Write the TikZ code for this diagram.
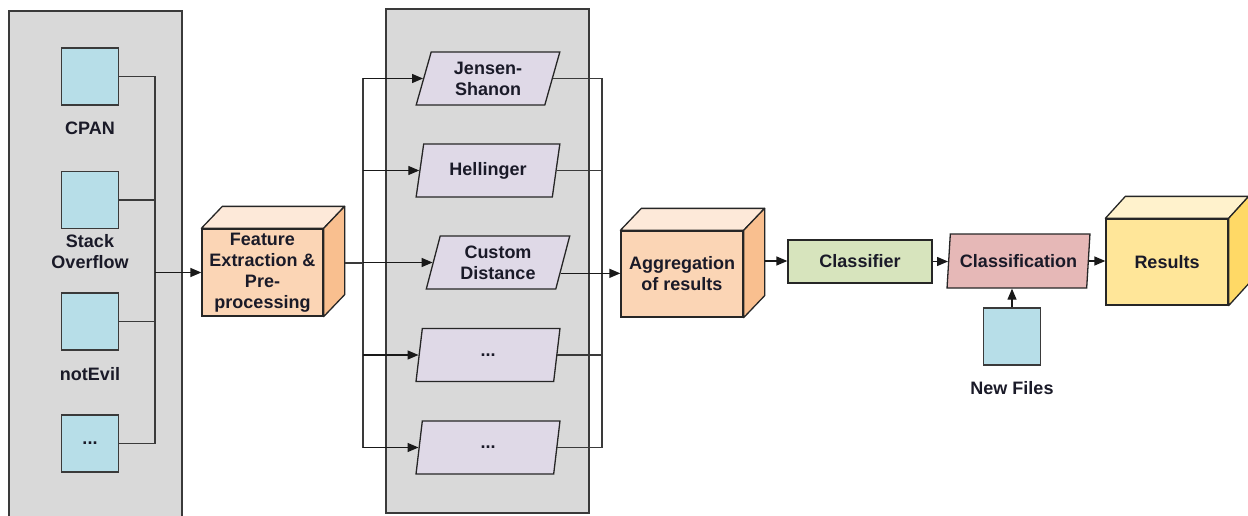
\documentclass[tikz,border=0pt]{standalone}
\usepackage{fontspec}
\setmainfont{Liberation Sans}
\usetikzlibrary{arrows.meta,shapes.geometric,calc}
\definecolor{panelgray}{HTML}{D9D9D9}
\definecolor{edgegray}{HTML}{3A3A3A}
\definecolor{sqblue}{HTML}{B7DEE8}
\definecolor{paralav}{HTML}{DFD9E7}
\definecolor{orfront}{HTML}{FBD5B5}
\definecolor{ortop}{HTML}{FDE9D9}
\definecolor{orside}{HTML}{F9BF8F}
\definecolor{clsgreen}{HTML}{D7E4BD}
\definecolor{clfpink}{HTML}{E6B8B7}
\definecolor{yefront}{HTML}{FFE699}
\definecolor{yetop}{HTML}{FFF2CC}
\definecolor{yeside}{HTML}{FFD966}
\definecolor{txt}{HTML}{1A1A28}
\tikzset{
  every node/.style={font=\bfseries\fontsize{18}{21}\selectfont, text=txt},
  panel/.style={draw=edgegray, line width=1.4pt, fill=panelgray, inner sep=0pt},
  sq/.style={draw=edgegray, line width=1.3pt, fill=sqblue, minimum width=57pt, minimum height=57pt, inner sep=0pt},
  lbl/.style={align=center, inner sep=0pt},
  para/.style={trapezium, trapezium left angle=75, trapezium right angle=105, trapezium stretches=true,
    draw=black!85, line width=1.3pt, fill=paralav, minimum width=144pt, minimum height=53pt, inner sep=0pt, align=center},
  front/.style={draw=black!85, line width=1.3pt, inner sep=0pt, align=center},
  face/.style={draw=black!85, line width=1.3pt, line join=round},
  conn/.style={draw=edgegray, line width=1.3pt},
  arr/.style={draw=black!90, line width=1.3pt, -{Triangle[length=11pt,width=9pt]}},
}
\begin{document}
\begin{tikzpicture}[x=1pt,y=-1pt]
\useasboundingbox (0,0) rectangle (1248,516);
% panels
\node[panel, minimum width=173pt, minimum height=512pt] (lp) at (95.5,267) {};
\node[panel, minimum width=203pt, minimum height=504pt] (mp) at (487.5,261) {};
% sources
\node[sq] (cpan) at (90,76.5) {};
\node[lbl] (cpanl) at (90,128) {CPAN};
\node[sq] (so) at (90,200) {};
\node[lbl] (sol) at (90,251.5) {Stack\\Overflow};
\node[sq] (ne) at (90,321.5) {};
\node[lbl] (nel) at (90,374) {notEvil};
\node[sq] (dots) at (90,443.5) {...};
% feature extraction box
\node[front, fill=orfront, minimum width=121pt, minimum height=87pt] (fe) at (262.5,272.5) {Feature\\Extraction \&\\Pre-\\processing};
\filldraw[face, fill=ortop] (fe.north west) -- ++(21,-22) -- ($(fe.north east)+(21,-22)$) -- (fe.north east) -- cycle;
\filldraw[face, fill=orside] (fe.north east) -- ++(21,-22) -- ($(fe.south east)+(21,-22)$) -- (fe.south east) -- cycle;
% left bus
\coordinate (lb) at (155,272.5);
\draw[conn] (cpan.east) -- (cpan.east -| lb) -- (dots.east -| lb) -- (dots.east);
\draw[conn] (so.east) -- (so.east -| lb);
\draw[conn] (ne.east) -- (ne.east -| lb);
\draw[arr] (lb) -- (fe.west);
% distances
\node[para] (js) at (488,78.5) {Jensen-\\Shanon};
\node[para] (hl) at (488,170.5) {Hellinger};
\node[para] (cd) at (498,262.5) {Custom\\Distance};
\node[para] (d1) at (488,355) {...};
\node[para] (d2) at (488,447.5) {...};
% middle bus
\coordinate (feout) at ($(fe.east)+(21,-9.5)$);
\coordinate (mb) at (363,263);
\draw[conn] (feout) -- (mb);
\draw[conn] (js.west -| mb) -- (d2.west -| mb);
\draw[arr] (js.west -| mb) -- (js.west);
\draw[arr] (hl.west -| mb) -- (hl.west);
\draw[arr] (cd.west -| mb) -- (cd.west);
\draw[arr] (d1.west -| mb) -- (d1.west);
\draw[arr] (d2.west -| mb) -- (d2.west);
% aggregation box
\node[front, fill=orfront, minimum width=122pt, minimum height=86pt] (agg) at (682,274) {Aggregation\\of results};
\filldraw[face, fill=ortop] (agg.north west) -- ++(21,-22) -- ($(agg.north east)+(21,-22)$) -- (agg.north east) -- cycle;
\filldraw[face, fill=orside] (agg.north east) -- ++(21,-22) -- ($(agg.south east)+(21,-22)$) -- (agg.south east) -- cycle;
% right bus
\coordinate (rb) at (602,78.5);
\draw[conn] (js.east) -- (js.east -| rb) -- (d2.east -| rb) -- (d2.east);
\draw[conn] (hl.east) -- (hl.east -| rb);
\draw[conn] (d1.east) -- (d1.east -| rb);
\coordinate (cdout) at ($(cd.bottom right corner)!0.3!(cd.top right corner)$);
\draw[arr] (cdout) -- (cdout -| agg.west);
% classifier
\node[front, fill=clsgreen, minimum width=144pt, minimum height=43pt] (cls) at (860,261.5) {Classifier};
\coordinate (aggout) at ($(agg.east)+(21,-13)$);
\draw[arr] (aggout) -- (aggout -| cls.west);
% classification
\node[para, fill=clfpink, trapezium left angle=78, trapezium right angle=102, minimum width=143pt, minimum height=54pt] (clf) at (1018.5,261) {Classification};
\draw[arr] (cls.east) -- (cls.east -| clf.west);
% results
\node[front, fill=yefront, minimum width=122pt, minimum height=86pt] (res) at (1167,262) {Results};
\filldraw[face, fill=yetop] (res.north west) -- ++(20,-22) -- ($(res.north east)+(20,-22)$) -- (res.north east) -- cycle;
\filldraw[face, fill=yeside] (res.north east) -- ++(20,-22) -- ($(res.south east)+(20,-22)$) -- (res.south east) -- cycle;
\draw[arr] (clf.east) -- (clf.east -| res.west);
% new files
\node[sq] (nf) at (1012,336.5) {};
\node[lbl] (nfl) at (1012,388) {New Files};
\draw[arr] (nf.north) -- (nf.north |- clf.south);
\end{tikzpicture}
\end{document}
